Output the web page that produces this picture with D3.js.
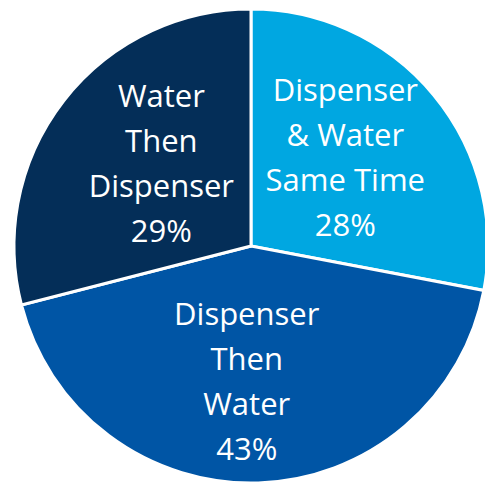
<!DOCTYPE html>
<html>
<head>
<meta charset="utf-8">
<script src="https://cdn.jsdelivr.net/npm/d3@7"></script>
<style>
  body { margin: 0; background: #fff; }
</style>
</head>
<body>
<div id="chart"></div>
<script>
// slice data, clockwise from 12 o'clock
var labels = [["Dispenser", "& Water", "Same Time"], ["Dispenser", "Then", "Water"], ["Water", "Then", "Dispenser"]];
var values = [28, 43, 29];
var colors = ["#00a7e1", "#0055a5", "#042e58"];

var width = 485, height = 484;
var cx = 251, cy = 246, radius = 237;

// nudge labels from their centroid
var labelShift = [[3, -13], [-8, 17], [4, -10]];

var svg = d3.select("#chart")
	.append("svg")
		.attr("width", width)
		.attr("height", height)
	.append("g")
		.attr("transform", "translate(" + cx + "," + cy + ")");

var pie = d3.pie().sort(null).value(function(d) { return d; });
var arcs = pie(values);

var arc = d3.arc().innerRadius(0).outerRadius(radius);

svg.selectAll("path.slice")
	.data(arcs)
	.enter()
	.append("path")
	.attr("class", "slice")
	.attr("d", arc)
	.attr("fill", function(d, i) { return colors[i]; })
	.attr("stroke", "#fff")
	.attr("stroke-width", 3)
	.attr("stroke-linejoin", "miter");

var lineH = 45;
var groups = svg.selectAll("text.lbl")
	.data(arcs)
	.enter()
	.append("text")
	.attr("class", "lbl")
	.attr("text-anchor", "middle")
	.style("font-family", "'Open Sans', sans-serif")
	.style("font-size", "31px")
	.attr("fill", "#fff")
	.attr("transform", function(d, i) {
		var c = arc.centroid(d);
		return "translate(" + (c[0] + labelShift[i][0]) + "," + (c[1] + labelShift[i][1]) + ")";
	});

groups.each(function(d, i) {
	var lines = labels[i].concat([values[i] + "%"]);
	var t = d3.select(this);
	lines.forEach(function(l, j) {
		t.append("tspan")
			.attr("x", 0)
			.attr("y", (j - (lines.length - 1) / 2) * lineH + 11)
			.text(l);
	});
});
</script>
</body>
</html>
